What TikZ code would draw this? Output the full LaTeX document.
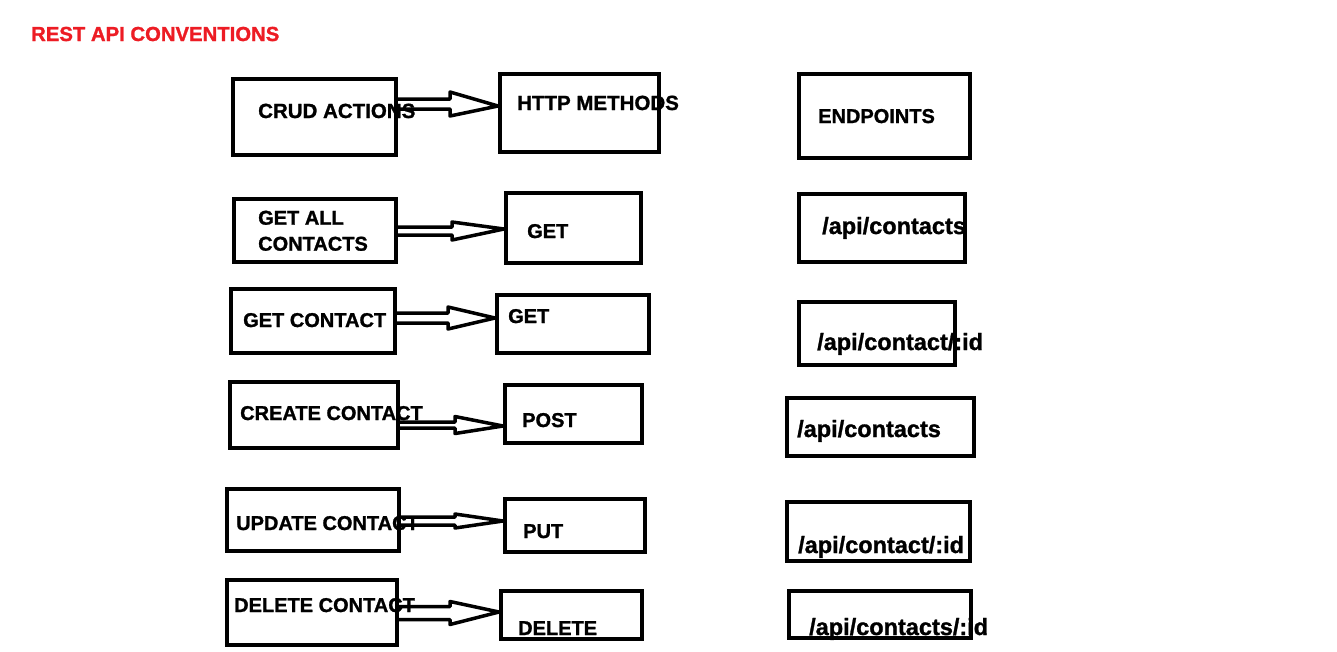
\documentclass[tikz,border=0pt]{standalone}
\usepackage{fontspec}
\setmainfont{Liberation Sans}[BoldFeatures={FakeBold=1.2}]
\definecolor{paintred}{RGB}{237,28,36}
\tikzset{
  box/.style={draw=black, line width=4pt, rectangle, inner sep=0pt},
  lbl/.style={anchor=base west, inner sep=0pt, font=\bfseries\fontsize{20}{26}\selectfont},
  ep/.style={anchor=base west, inner sep=0pt, font=\bfseries\fontsize{23.5}{28}\selectfont},
  arr/.style={draw=black, line width=3.5pt, line join=round, line cap=round}
}
% box by outer edges: name, x1, y1, x2, y2
\newcommand\bx[5]{\node[box, minimum width={#4-#2-4}, minimum height={#5-#3-4}] (#1) at ({(#2+#4)/2},{(#3+#5)/2}) {};}
% double arrow: from, to, yc, half-sep, head-base x, head half-height, tip y
\newcommand\dblarr[7]{\draw[arr] (#1.east |- 0,{#3-#4}) -- (#5,{#3-#4}) -- (#5,{#3-#6}) -- (#2.west |- 0,#7) -- (#5,{#3+#6}) -- (#5,{#3+#4}) -- (#1.east |- 0,{#3+#4});}
\begin{document}
\begin{tikzpicture}[x=1pt, y=-1pt]
\useasboundingbox[fill=white] (0,0) rectangle (1337,651);
% title
\node[anchor=base west, inner sep=0pt, text=paintred, font=\bfseries\fontsize{20.3}{24}\selectfont] (title) at (31,41) {REST API CONVENTIONS};
% last endpoint text is partly covered by its box
\node[ep] (t5c) at (809,635) {/api/contacts/:id};
% boxes
\bx{crud}{231}{77}{398}{157}
\bx{http}{498}{72}{661}{154}
\bx{endp}{797}{72}{972}{160}
\bx{r1a}{232}{197}{398}{264}
\bx{r1b}{504}{191}{643}{265}
\bx{r1c}{797}{192}{967}{264}
\bx{r2a}{229}{287}{397}{355}
\bx{r2b}{495}{293}{651}{355}
\bx{r2c}{797}{300}{957}{367}
\bx{r3a}{228}{380}{400}{450}
\bx{r3b}{503}{383}{644}{445}
\bx{r3c}{785}{396}{976}{458}
\bx{r4a}{225}{487}{401}{553}
\bx{r4b}{503}{497}{647}{554}
\bx{r4c}{785}{500}{972}{563}
\bx{r5a}{225}{578}{399}{647}
\bx{r5b}{499}{589}{644}{641}
\bx{r5c}{787}{589}{973}{640}
% texts
\node[lbl, font=\bfseries\fontsize{20.5}{26}\selectfont] (tcrud) at (258,118) {CRUD ACTIONS};
\node[lbl, font=\bfseries\fontsize{20.5}{26}\selectfont] (thttp) at (517,110) {HTTP METHODS};
\node[lbl] (tendp) at (818,123) {ENDPOINTS};
\node[lbl, anchor=north west, align=left] (t1a) at (258,210.5) {GET ALL\\CONTACTS};
\node[lbl] (t1b) at (527,238) {GET};
\node[ep] (t1c) at (822,234) {/api/contacts};
\node[lbl] (t2a) at (243,327) {GET CONTACT};
\node[lbl] (t2b) at (508,323) {GET};
\node[ep] (t2c) at (817,350) {/api/contact/:id};
\node[lbl] (t3a) at (240,420) {CREATE CONTACT};
\node[lbl] (t3b) at (522,427) {POST};
\node[ep] (t3c) at (797,437) {/api/contacts};
\node[lbl] (t4a) at (236,530) {UPDATE CONTACT};
\node[lbl] (t4b) at (523,538) {PUT};
\node[ep] (t4c) at (798,553) {/api/contact/:id};
\node[lbl] (t5a) at (234,612) {DELETE CONTACT};
\node[lbl] (t5b) at (518,635) {DELETE};
% arrows
\dblarr{crud}{http}{104}{5}{450}{12}{106}
\dblarr{r1a}{r1b}{231}{4}{452}{9}{229}
\dblarr{r2a}{r2b}{318}{5}{448}{11}{318}
\dblarr{r3a}{r3b}{425}{3}{455}{8.5}{426}
\dblarr{r4a}{r4b}{521}{4}{455}{7}{521}
\dblarr{r5a}{r5b}{613}{6.5}{450}{11.5}{612}
\end{tikzpicture}
\end{document}
